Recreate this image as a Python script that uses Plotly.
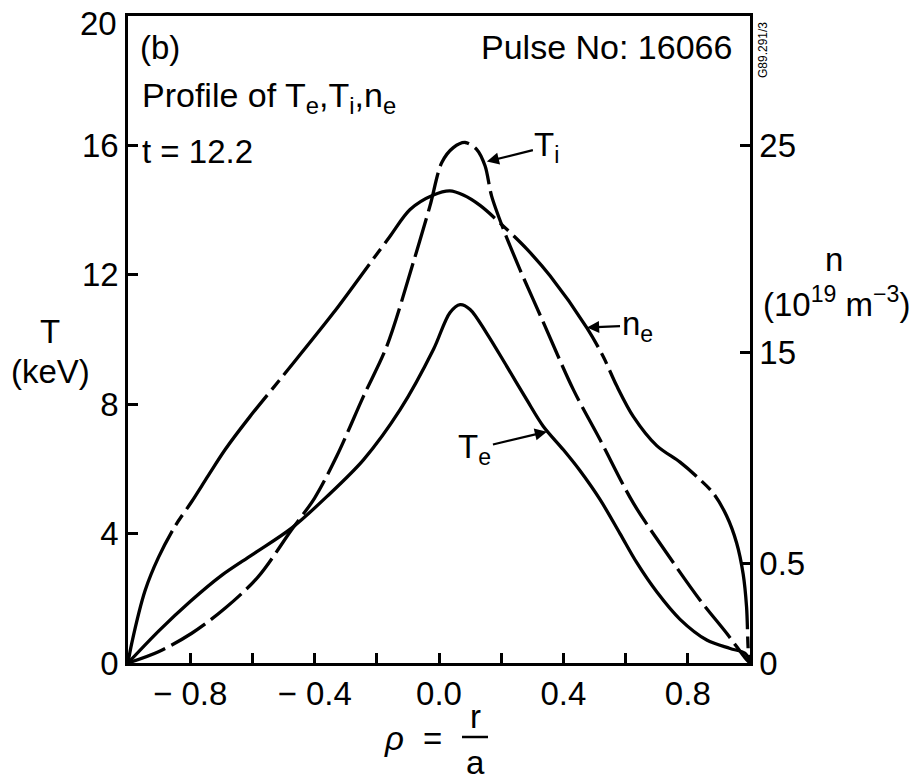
import plotly.graph_objects as go

# ---- data ----
# electron temperature Te (keV)
te_x = [-1.0, -0.9, -0.8, -0.7, -0.6, -0.474, -0.36, -0.243, -0.125, -0.018, 0.035, 0.068, 0.1,
        0.153, 0.218, 0.282, 0.335, 0.4, 0.453, 0.518, 0.582, 0.636, 0.7, 0.775, 0.861, 0.936, 0.984, 1.0]
te_y = [0.0, 1.0, 1.9, 2.7, 3.35, 4.17, 5.15, 6.28, 7.83, 9.69, 10.83, 11.08, 10.93,
        10.2, 9.17, 8.14, 7.32, 6.59, 5.95, 5.05, 4.0, 3.1, 2.2, 1.35, 0.71, 0.45, 0.3, 0.05]

# ion temperature Ti (keV)
ti_x = [-1.0, -0.902, -0.795, -0.688, -0.581, -0.474, -0.40, -0.329, -0.243, -0.168, -0.083, -0.029, 0.009,
        0.046, 0.084, 0.121, 0.148, 0.169, 0.207, 0.26, 0.33, 0.432, 0.518, 0.625, 0.732, 0.839, 0.925, 0.989, 1.0]
ti_y = [0.0, 0.35, 0.92, 1.69, 2.67, 4.12, 5.1, 6.39, 8.24, 9.79, 12.37, 14.13, 15.47,
        15.93, 16.09, 15.88, 15.37, 14.44, 13.41, 12.17, 10.65, 8.45, 6.9, 4.94, 3.4, 1.95, 0.92, 0.1, 0.0]

# electron density ne (10^19 m^-3)
ne_x = [-1.0, -0.988, -0.945, -0.902, -0.849, -0.795, -0.742, -0.688, -0.608, -0.5, -0.34, -0.222, -0.158,
        -0.093, -0.018, 0.035, 0.078, 0.132, 0.207, 0.282, 0.357, 0.475, 0.528, 0.571, 0.625, 0.7, 0.775,
        0.829, 0.882, 0.925, 0.957, 0.978, 0.989, 0.995, 1.0]
ne_y = [0.0, 0.95, 3.5, 5.1, 6.6, 7.8, 9.05, 10.3, 11.9, 13.9, 16.9, 19.3, 20.6,
        21.9, 22.6, 22.8, 22.6, 22.1, 21.1, 20.0, 18.7, 16.2, 14.8, 13.4, 11.9, 10.5, 9.7,
        9.0, 8.2, 7.1, 5.8, 4.3, 2.7, 0.5, 0.0]

x_tickvals = [-1.0, -0.8, -0.6, -0.4, -0.2, 0.0, 0.2, 0.4, 0.6, 0.8, 1.0]
x_ticktext = ["", "\u2212 0.8", "", "\u2212 0.4", "", "0.0", "", "0.4", "", "0.8", ""]
yl_tickvals = [0, 4, 8, 12, 16, 20]
yl_ticktext = ["0", "4", "8", "12", "16", ""]
yl_top_label = "20"
yr_tickvals = [0, 4.8, 15, 25]
yr_ticktext = ["0", "0.5", "15", "25"]

FONT = "Liberation Sans, Arial, Helvetica, sans-serif"
W, H = 912, 780
L, R, T, B = 128, 162, 16, 117
PW, PH = W - L - R, H - T - B


def px(xp):
    return (xp - L) / PW


def py(yp):
    return (H - B - yp) / PH


fig = go.Figure()
line_w = 3.3
fig.add_trace(go.Scatter(x=te_x, y=te_y, mode="lines",
                         line=dict(color="black", width=line_w, shape="spline", smoothing=0.9), name="Te"))
fig.add_trace(go.Scatter(x=ti_x, y=ti_y, mode="lines",
                         line=dict(color="black", width=line_w, shape="spline", smoothing=0.9, dash="40px,7px"),
                         name="Ti"))
fig.add_trace(go.Scatter(x=ne_x, y=ne_y, mode="lines", yaxis="y2",
                         line=dict(color="black", width=line_w, shape="spline", smoothing=0.9,
                                   dash="140px,7px,12px,7px"), name="ne"))

axis_common = dict(showline=True, linecolor="black", linewidth=2.5, ticks="inside", ticklen=10,
                   tickwidth=2.5, tickcolor="black", showgrid=False, zeroline=False,
                   automargin=False, ticklabeloverflow="allow",
                   tickfont=dict(family=FONT, size=33, color="black"))

fig.update_layout(
    width=W, height=H,
    margin=dict(l=L, r=R, t=T, b=B, pad=0, autoexpand=False),
    paper_bgcolor="white", plot_bgcolor="white",
    showlegend=False,
    xaxis=dict(range=[-1, 1], tickvals=x_tickvals, ticktext=x_ticktext, mirror=True, **axis_common),
    yaxis=dict(range=[0, 20], tickvals=yl_tickvals, ticktext=yl_ticktext, **axis_common),
    yaxis2=dict(range=[0, 31.25], overlaying="y", side="right", tickvals=yr_tickvals,
                ticktext=yr_ticktext, **axis_common),
)


def txt(text, xp, yp, size=33, xanchor="center", yanchor="middle", **kw):
    fig.add_annotation(text=text, x=px(xp), y=py(yp), xref="paper", yref="paper",
                       showarrow=False, xanchor=xanchor, yanchor=yanchor,
                       font=dict(family=FONT, size=size, color="black"), **kw)


# top tick label of the left axis, set slightly below the frame so it is not clipped
txt(yl_top_label, 119, 24, xanchor="right")

txt("(b)", 138, 48, xanchor="left")
txt("Profile of T<sub>e</sub>,T<sub>i</sub>,n<sub>e</sub>", 140, 98, size=34, xanchor="left")
txt("t = 12.2", 140, 151, xanchor="left")
txt("Pulse No: 16066", 734, 47, size=34, xanchor="right")
txt("G89.291/3", 763, 50, size=12, textangle=-90)

txt("T", 50, 331)
txt("(keV)", 50, 371)
txt("n", 834, 259)
txt("(10<sup>19</sup> m<sup>\u22123</sup>)", 836, 302)

txt("<i>\u03c1</i>", 394, 738)
txt("=", 432, 738)
txt("r", 475, 716)
txt("a", 475, 762)
fig.add_shape(type="line", xref="paper", yref="paper", x0=px(462), x1=px(488), y0=py(737), y1=py(737),
              line=dict(color="black", width=2.5))


def arrow(text, xd, yd, ax, ay):
    fig.add_annotation(text=text, x=xd, y=yd, xref="x", yref="y", showarrow=True,
                       ax=ax, ay=ay, axref="pixel", ayref="pixel",
                       arrowhead=2, arrowsize=1.1, arrowwidth=2.2, arrowcolor="black", standoff=0,
                       font=dict(family=FONT, size=33, color="black"))


arrow("T<sub>i</sub>", 0.154, 15.5, 60, -15)
arrow("n<sub>e</sub>", 0.476, 10.37, 50, -2)
arrow("T<sub>e</sub>", 0.347, 7.15, -72, 17)

fig.write_html("out.html")
